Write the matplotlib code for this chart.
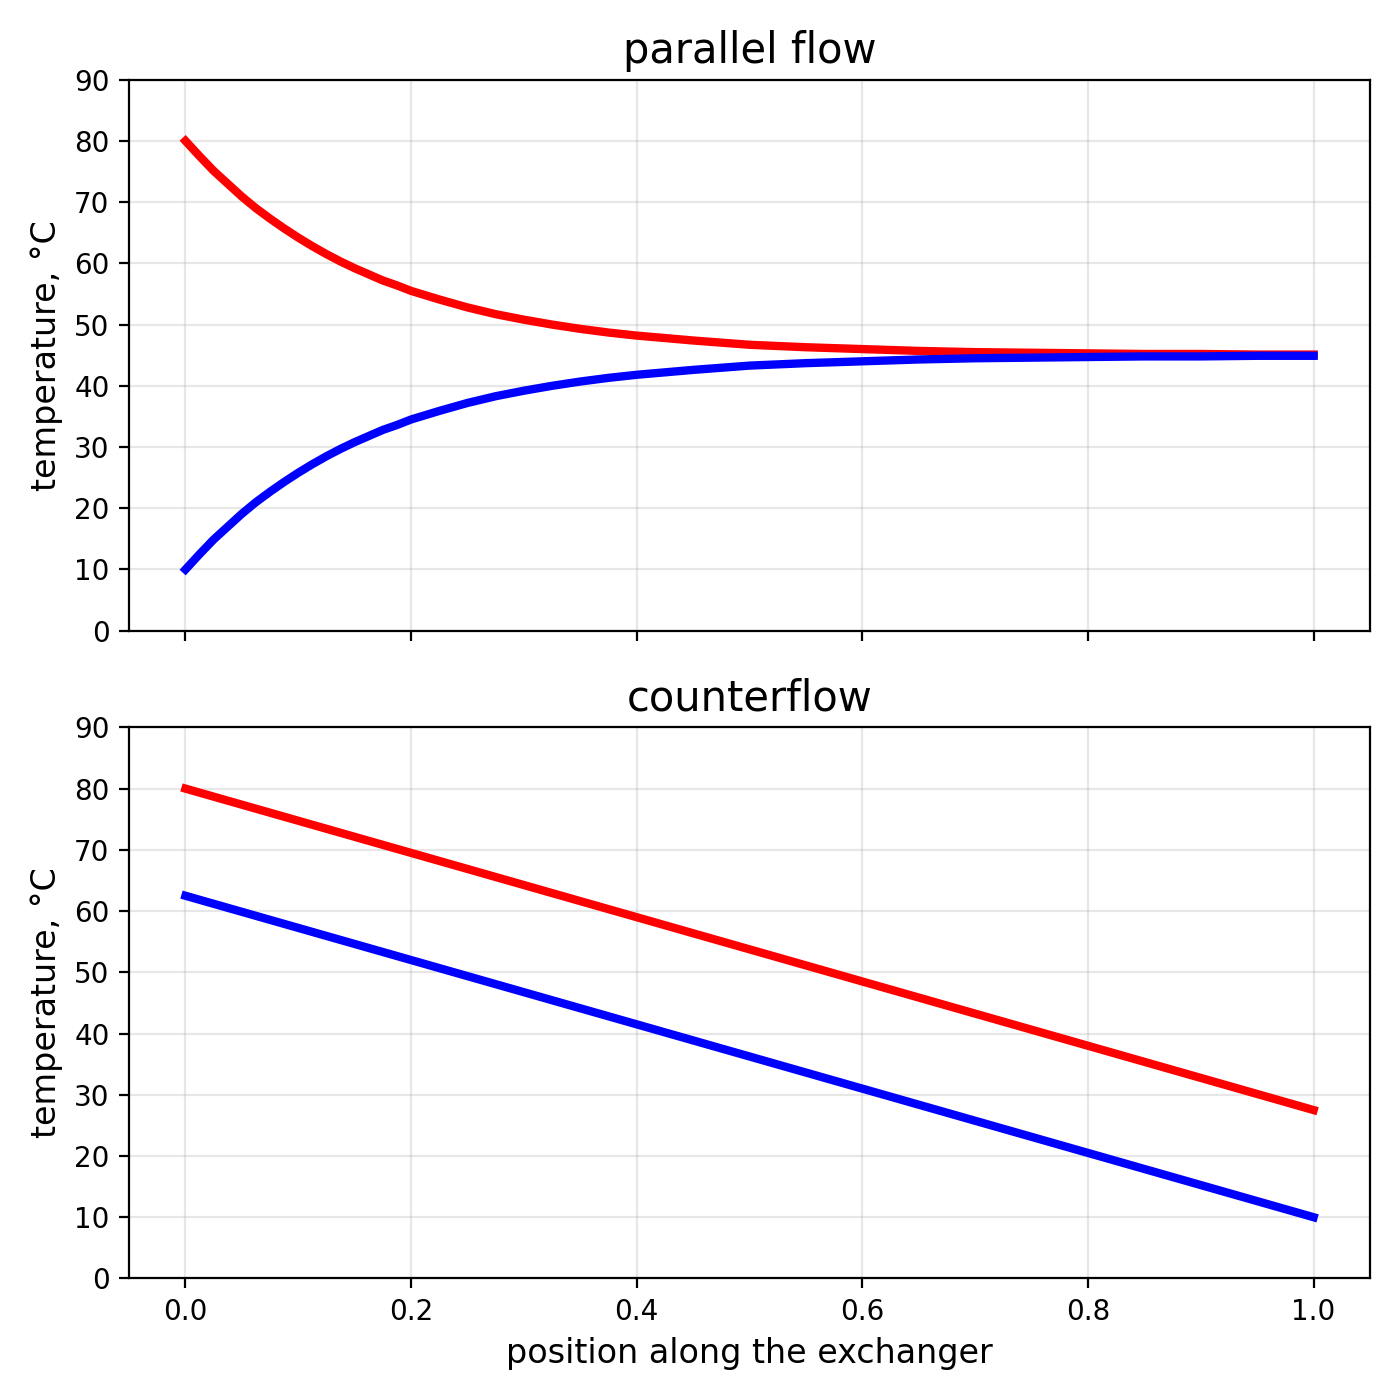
import matplotlib
matplotlib.use("Agg")
import matplotlib.pyplot as plt

# values
x_par = [0.0, 0.0125, 0.025, 0.0375, 0.05, 0.0625, 0.075, 0.0875, 0.1, 0.1125,
         0.125, 0.1375, 0.15, 0.1625, 0.175, 0.1875, 0.2, 0.225, 0.25, 0.275,
         0.3, 0.325, 0.35, 0.375, 0.4, 0.45, 0.5, 0.55, 0.6, 0.65, 0.7, 0.75,
         0.8, 0.85, 0.9, 0.95, 1.0]
hot_par = [80.0, 77.5, 75.1, 73.0, 70.9, 69.0, 67.3, 65.7, 64.2, 62.8,
           61.5, 60.3, 59.2, 58.2, 57.2, 56.4, 55.5, 54.1, 52.8, 51.7,
           50.8, 50.0, 49.3, 48.7, 48.2, 47.4, 46.7, 46.3, 46.0, 45.7, 45.5, 45.4,
           45.3, 45.2, 45.2, 45.1, 45.1]
cold_par = [10.0, 12.5, 14.9, 17.0, 19.1, 21.0, 22.7, 24.3, 25.8, 27.2,
            28.5, 29.7, 30.8, 31.8, 32.8, 33.6, 34.5, 35.9, 37.2, 38.3,
            39.2, 40.0, 40.7, 41.3, 41.8, 42.6, 43.3, 43.7, 44.0, 44.3, 44.5, 44.6,
            44.7, 44.8, 44.8, 44.9, 44.9]

x_cnt = [0.0, 0.2, 0.4, 0.6, 0.8, 1.0]
hot_cnt = [80.0, 69.5, 59.0, 48.5, 38.0, 27.5]
cold_cnt = [62.5, 52.0, 41.5, 31.0, 20.5, 10.0]

fig, (ax1, ax2) = plt.subplots(2, 1, sharex=True, figsize=(7, 7), dpi=200)

ax1.plot(x_par, hot_par, color='red', lw=3)
ax1.plot(x_par, cold_par, color='blue', lw=3)
ax1.set_title('parallel flow', fontsize=15)

ax2.plot(x_cnt, hot_cnt, color='red', lw=3)
ax2.plot(x_cnt, cold_cnt, color='blue', lw=3)
ax2.set_title('counterflow', fontsize=15)
ax2.set_xlabel('position along the exchanger', fontsize=12)

for ax in (ax1, ax2):
    ax.set_ylim(0, 90)
    ax.set_yticks(range(0, 91, 10))
    ax.set_ylabel('temperature, °C', fontsize=12)
    ax.grid(alpha=0.3)

plt.tight_layout()
plt.savefig('out.png')
